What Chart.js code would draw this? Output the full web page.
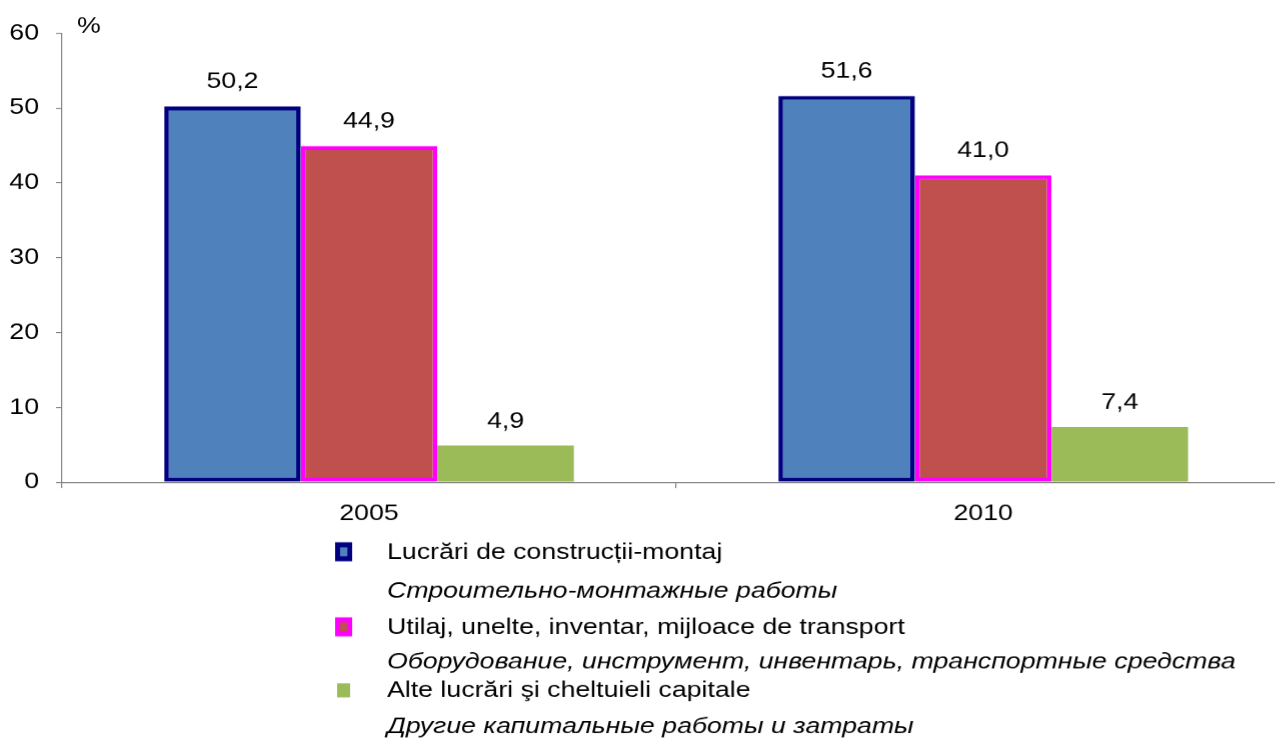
<!DOCTYPE html>
<html>
<head>
<meta charset="utf-8">
<script src="https://cdn.jsdelivr.net/npm/chart.js@4"></script>
<style>
  html, body { margin: 0; padding: 0; background: #fff; overflow: hidden; }
  /* the original picture is stretched sideways, so the whole chart is too */
  #wrap { width: 1121px; height: 740px; transform: scale(1.16, 1); transform-origin: 0 0; }
</style>
</head>
<body>
<div id="wrap"><canvas id="chart" width="1121" height="740"></canvas></div>
<script>
const years = ["2005", "2010"];
const constructionValues = [50.2, 51.6];
const equipmentValues = [44.9, 41.0];
const otherValues = [4.9, 7.4];
const yTicks = [0, 10, 20, 30, 40, 50, 60];

const seriesNames = [
  ["Lucrări de construcții-montaj", "Строительно-монтажные работы"],
  ["Utilaj, unelte, inventar, mijloace de transport", "Оборудование, инструмент, инвентарь, транспортные средства"],
  ["Alte lucrări şi cheltuieli capitale", "Другие капитальные работы и затраты"]
];

const FONT = "'Liberation Sans', Arial, sans-serif";

function fmt(v) {
  return v.toFixed(1).replace(".", ",");
}

// value labels above each bar
const valueLabels = {
  id: "valueLabels",
  afterDatasetsDraw(chart) {
    const ctx = chart.ctx;
    ctx.save();
    ctx.font = "23px " + FONT;
    ctx.fillStyle = "#000";
    ctx.textAlign = "center";
    ctx.textBaseline = "alphabetic";
    chart.data.datasets.forEach((ds, i) => {
      chart.getDatasetMeta(i).data.forEach((bar, j) => {
        ctx.fillText(fmt(ds.data[j]), bar.x, bar.y - 18);
      });
    });
    ctx.restore();
  }
};

// unit label and two-language legend
const extras = {
  id: "extras",
  afterDraw(chart) {
    const ctx = chart.ctx;
    ctx.save();
    ctx.font = "23px " + FONT;
    ctx.fillStyle = "#000";
    ctx.textAlign = "left";
    ctx.textBaseline = "middle";
    ctx.fillText("%", 66.4, 26);

    const rowY = [552, 627, 690];
    const subGap = [39, 35, 36];
    chart.data.datasets.forEach((ds, i) => {
      const y = rowY[i];
      if (ds.borderWidth > 0) {
        ctx.fillStyle = ds.borderColor;
        ctx.fillRect(288.8, y - 10, 14.7, 19);
        ctx.fillStyle = ds.backgroundColor;
        ctx.fillRect(293.1, y - 5, 6.3, 9);
      } else {
        ctx.fillStyle = ds.backgroundColor;
        ctx.fillRect(290.5, y - 7, 11.2, 14);
      }
      ctx.fillStyle = "#000";
      ctx.font = "23px " + FONT;
      ctx.fillText(seriesNames[i][0], 333.6, y);
      ctx.font = "italic 23px " + FONT;
      ctx.fillText(seriesNames[i][1], 333.6, y + subGap[i]);
    });
    ctx.restore();
  }
};

new Chart(document.getElementById("chart"), {
  type: "bar",
  data: {
    labels: years,
    datasets: [
      {
        label: seriesNames[0][0],
        data: constructionValues,
        backgroundColor: "#4F81BD",
        borderColor: "#000080",
        borderWidth: 4,
        borderSkipped: false
      },
      {
        label: seriesNames[1][0],
        data: equipmentValues,
        backgroundColor: "#C0504D",
        borderColor: "#FF00FF",
        borderWidth: 4,
        borderSkipped: false
      },
      {
        label: seriesNames[2][0],
        data: otherValues,
        backgroundColor: "#9BBB59",
        borderWidth: 0
      }
    ]
  },
  options: {
    responsive: false,
    animation: false,
    devicePixelRatio: 1.16,
    layout: { padding: { left: 0, top: 33, right: 9, bottom: 0 } },
    datasets: {
      bar: { barPercentage: 1, categoryPercentage: 0.667 }
    },
    plugins: {
      legend: { display: false },
      tooltip: { enabled: false }
    },
    scales: {
      x: {
        grid: {
          offset: true,
          drawOnChartArea: false,
          drawTicks: true,
          tickLength: 6,
          color: "#808080"
        },
        border: { color: "#808080", width: 1 },
        ticks: {
          color: "#000",
          padding: 12,
          font: { family: FONT, size: 23 }
        },
        afterFit(scale) { scale.height = 258; }
      },
      y: {
        min: 0,
        max: 60,
        afterBuildTicks(scale) {
          scale.ticks = yTicks.map(v => ({ value: v }));
        },
        grid: {
          drawOnChartArea: false,
          drawTicks: true,
          tickLength: 5.2,
          color: "#808080"
        },
        border: { color: "#808080", width: 1 },
        ticks: {
          color: "#000",
          padding: 14.6,
          font: { family: FONT, size: 23 }
        },
        afterFit(scale) { scale.width = 53.4; }
      }
    }
  },
  plugins: [valueLabels, extras]
});
</script>
</body>
</html>
